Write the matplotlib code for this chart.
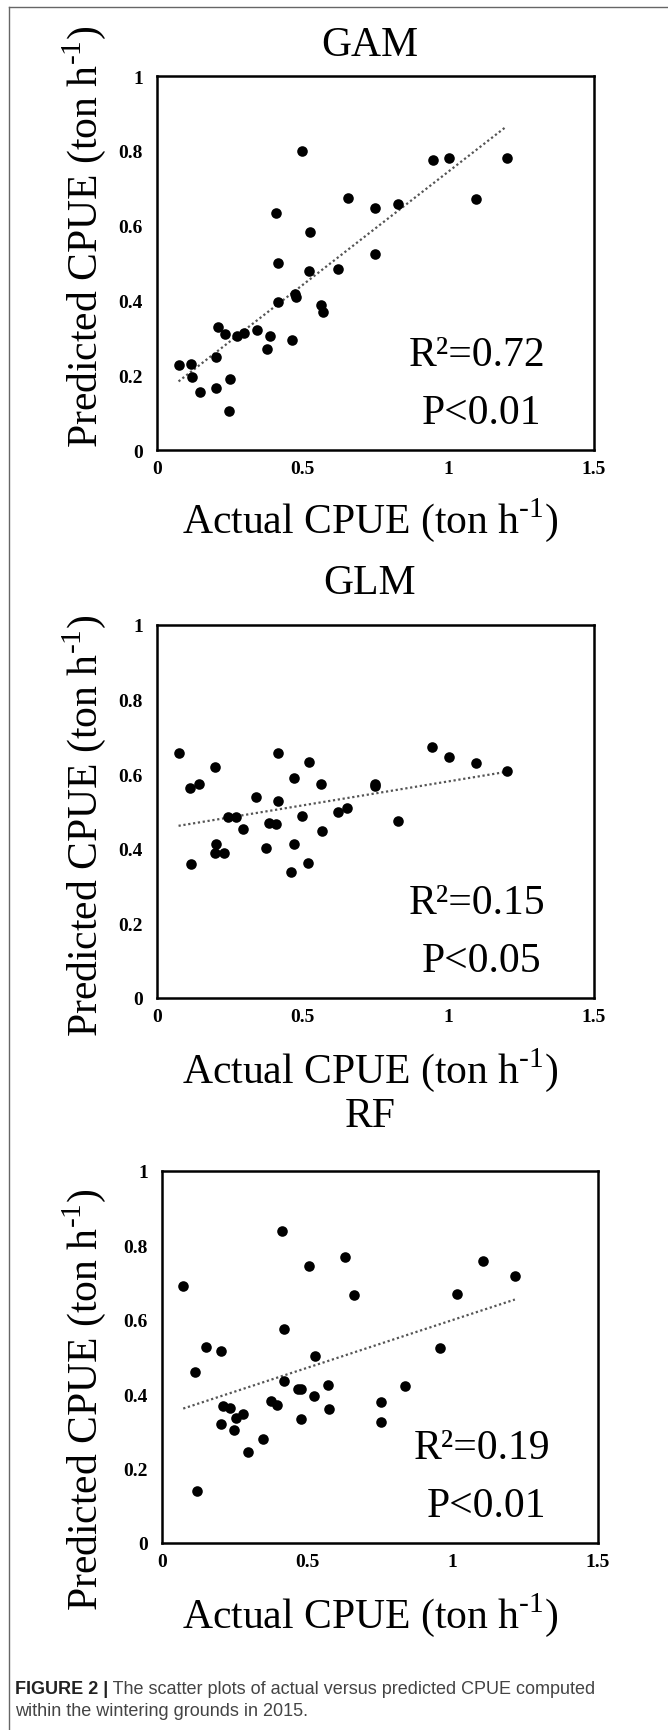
import numpy as np
import matplotlib
matplotlib.use('Agg')
import matplotlib.pyplot as plt
from matplotlib.lines import Line2D

plt.rcParams['font.family'] = ['Liberation Serif', 'DejaVu Serif']
plt.rcParams['mathtext.fontset'] = 'custom'
plt.rcParams['mathtext.rm'] = 'Liberation Serif'

# data
gam_x = [0.074, 0.116, 0.119, 0.148, 0.204, 0.204, 0.208, 0.232, 0.252, 0.246, 0.275, 0.297,
         0.344, 0.389, 0.376, 0.462, 0.416, 0.473, 0.476, 0.407, 0.416, 0.522, 0.524, 0.498,
         0.564, 0.570, 0.622, 0.654, 0.747, 0.747, 0.827, 0.946, 1.003, 1.094, 1.200]
gam_y = [0.227, 0.231, 0.196, 0.156, 0.249, 0.165, 0.328, 0.309, 0.189, 0.104, 0.306, 0.312,
         0.320, 0.306, 0.271, 0.294, 0.395, 0.418, 0.410, 0.634, 0.500, 0.478, 0.584, 0.800,
         0.388, 0.370, 0.485, 0.674, 0.646, 0.523, 0.659, 0.776, 0.780, 0.672, 0.782]

glm_x = [0.074, 0.112, 0.145, 0.200, 0.116, 0.204, 0.200, 0.231, 0.244, 0.272, 0.294, 0.341,
         0.373, 0.383, 0.407, 0.414, 0.414, 0.461, 0.471, 0.471, 0.498, 0.519, 0.522, 0.564,
         0.566, 0.622, 0.652, 0.747, 0.747, 0.827, 0.943, 1.002, 1.094, 1.200]
glm_y = [0.656, 0.563, 0.573, 0.620, 0.358, 0.414, 0.390, 0.390, 0.484, 0.484, 0.452, 0.538,
         0.401, 0.469, 0.466, 0.529, 0.656, 0.338, 0.414, 0.590, 0.489, 0.362, 0.632, 0.574,
         0.448, 0.500, 0.509, 0.574, 0.568, 0.475, 0.672, 0.646, 0.630, 0.608]

rf_x = [0.073, 0.114, 0.120, 0.150, 0.202, 0.202, 0.210, 0.233, 0.249, 0.255, 0.280, 0.296,
        0.349, 0.376, 0.394, 0.413, 0.420, 0.420, 0.467, 0.478, 0.478, 0.505, 0.523, 0.528,
        0.571, 0.576, 0.630, 0.662, 0.755, 0.755, 0.835, 0.956, 1.016, 1.106, 1.214]
rf_y = [0.691, 0.459, 0.139, 0.527, 0.516, 0.319, 0.367, 0.362, 0.304, 0.335, 0.346, 0.244,
        0.279, 0.382, 0.370, 0.838, 0.576, 0.436, 0.414, 0.414, 0.333, 0.744, 0.396, 0.503,
        0.425, 0.361, 0.769, 0.666, 0.378, 0.326, 0.423, 0.524, 0.669, 0.759, 0.717]

titles = ['GAM', 'GLM', 'RF']
r2_labels = ['R\u00b2=0.72', 'R\u00b2=0.15', 'R\u00b2=0.19']
p_labels = ['P<0.01', 'P<0.05', 'P<0.01']
xticks = [0, 0.5, 1, 1.5]
xtick_labels = ['0', '0.5', '1', '1.5']
yticks = [0, 0.2, 0.4, 0.6, 0.8, 1]
ytick_labels = ['0', '0.2', '0.4', '0.6', '0.8', '1']

W, H = 668, 1731
fig = plt.figure(figsize=(W / 100, H / 100), dpi=100)

def fx(px):
    return px / W

def fy(py):
    return 1 - py / H

# axes boxes in pixels: left, top, right, bottom
boxes = [(157, 77, 594, 451), (157, 626, 594, 999), (162, 1172, 598, 1544)]
title_y = [46, 584, 1117]
xlabel_y = [520, 1070, 1615]
ylabel_y = [237, 826, 1400]
series = [(gam_x, gam_y), (glm_x, glm_y), (rf_x, rf_y)]
unit = r'(ton h$^{\text{-}1}$)'

for i, (xs, ys) in enumerate(series):
    l, t, r, b = boxes[i]
    ax = fig.add_axes([fx(l), fy(b), fx(r) - fx(l), (b - t) / H])
    ax.scatter(xs, ys, s=58, color='black', zorder=3, linewidths=0)
    slope, icpt = np.polyfit(xs, ys, 1)
    xl = np.array([min(xs), max(xs)])
    ax.plot(xl, slope * xl + icpt, color='#555555', lw=1.6, linestyle=(0, (1, 1.2)), zorder=2)
    ax.set_xlim(0, 1.5)
    ax.set_ylim(0, 1)
    ax.set_xticks(xticks)
    ax.set_xticklabels(xtick_labels, fontsize=14, fontweight='bold')
    ax.set_yticks(yticks)
    ax.set_yticklabels(ytick_labels, fontsize=14, fontweight='bold')
    ax.tick_params(length=0, pad=10)
    ax.tick_params(axis='x', pad=7)
    for sp in ax.spines.values():
        sp.set_linewidth(1.8)
    ax.text(1.10, 0.255, r2_labels[i], fontsize=30, ha='center', va='center')
    ax.text(1.115, 0.10, p_labels[i], fontsize=30, ha='center', va='center')

    fig.text(fx(370), fy(title_y[i]), titles[i], fontsize=30, ha='center', va='center')
    fig.text(fx(370), fy(xlabel_y[i]), 'Actual CPUE ' + unit, fontsize=30,
             ha='center', va='center')
    fig.text(fx(84), fy(ylabel_y[i]), 'Predicted CPUE ' + unit, fontsize=30,
             ha='center', va='center', rotation=90)

# outer frame (top and left edges visible)
fig.add_artist(Line2D([fx(9), 1], [fy(8), fy(8)], color='#666666', lw=1))
fig.add_artist(Line2D([fx(9), fx(9)], [fy(8), 0], color='#666666', lw=1))

# caption
cap1 = fig.text(fx(15), fy(1694), 'FIGURE 2 |', fontsize=13, fontweight='bold',
                family='Liberation Sans', color='#222222', va='baseline')
plt.annotate(' The scatter plots of actual versus predicted CPUE computed',
             xy=(1, 0), xycoords=cap1, fontsize=13, family='Liberation Sans',
             color='#444444', va='bottom', annotation_clip=False)
fig.text(fx(15), fy(1716), 'within the wintering grounds in 2015.', fontsize=13,
         family='Liberation Sans', color='#444444', va='baseline')

fig.savefig('out.png', dpi=100)
